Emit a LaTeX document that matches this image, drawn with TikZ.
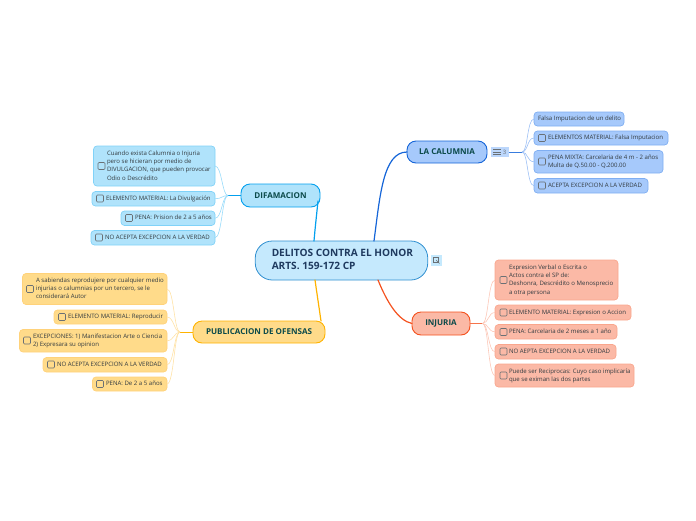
\documentclass[tikz,border=0pt]{standalone}
\usepackage{fontspec}
\setmainfont{Open Sans}
\usetikzlibrary{calc}
\definecolor{ink}{HTML}{333B40}
\definecolor{rootfill}{HTML}{C5E9FD}
\definecolor{rootline}{HTML}{2F8FD0}
\definecolor{rootink}{HTML}{1F3A5F}
\definecolor{topink}{HTML}{0B4A4A}
\definecolor{bluefill}{HTML}{A6C9FB}
\definecolor{blueline}{HTML}{1565D8}
\definecolor{blueedge}{HTML}{7FAEF2}
\definecolor{bluelink}{HTML}{9DC0F5}
\definecolor{redfill}{HTML}{FBB9A6}
\definecolor{redline}{HTML}{F4511E}
\definecolor{rededge}{HTML}{F9A68D}
\definecolor{redlink}{HTML}{FCC8B8}
\definecolor{skyfill}{HTML}{B0E3FB}
\definecolor{skyline}{HTML}{03A0EE}
\definecolor{skyedge}{HTML}{80D2F8}
\definecolor{skylink}{HTML}{98DBFA}
\definecolor{goldfill}{HTML}{FFDB8A}
\definecolor{goldline}{HTML}{FFB300}
\definecolor{goldedge}{HTML}{FFD27A}
\definecolor{goldlink}{HTML}{FFE2A6}
\definecolor{boxgrey}{HTML}{6A7075}
\tikzset{
  plain/.style={inner sep=0pt,outer sep=0pt,rounded corners=3.5pt,line width=.7pt,
    text=ink,font=\fontsize{6.05pt}{8.3pt}\selectfont},
  bluekid/.style={plain,fill=bluefill,draw=blueedge},
  redkid/.style={plain,fill=redfill,draw=rededge},
  skykid/.style={plain,fill=skyfill,draw=skyedge},
  goldkid/.style={plain,fill=goldfill,draw=goldedge},
  topic/.style={inner sep=0pt,outer sep=0pt,rounded corners=9pt,line width=.9pt,align=center,
    text=topink,font=\fontsize{8.05pt}{9pt}\selectfont\bfseries},
  rootbox/.style={inner sep=0pt,outer sep=0pt,rounded corners=17pt,line width=.8pt,
    fill=rootfill,draw=rootline,text=rootink,
    font=\fontsize{10.1pt}{13.5pt}\selectfont\bfseries},
  tick/.style={draw=boxgrey,line width=.6pt,rounded corners=1pt,inner sep=0pt,outer sep=0pt,
    minimum size=7pt},
  mainlink/.style={line width=1.2pt,line cap=round},
  trunk/.style={line width=1pt},
  twig/.style={line width=.6pt},
}
\newcommand{\lines}[3]{\makebox[#1pt][l]{\hspace*{#2pt}\begin{tabular}{@{}l@{}}#3\end{tabular}}}
% name, x1, y1, x2, y2, style, text start offset from x1, text
\newcommand{\kid}[8]{%
  \pgfmathsetmacro{\kw}{#4-#2}%
  \pgfmathsetmacro{\kh}{#5-#3}%
  \node[#6,minimum width=\kw pt,minimum height=\kh pt]
    (#1) at ({(#2+#4)/2},{(#3+#5)/2}) {\lines{\kw}{#7}{#8}};%
}
\newcommand{\tickbox}[2]{\node[tick] (tick#1) at (#2) {};}
\begin{document}
\begin{tikzpicture}[x=1pt,y=-1pt]
\useasboundingbox (0,0) rectangle (696,520);
% root
\node[rootbox,minimum width=172.5pt,minimum height=39pt] (root) at (341.5,260.5)
  {\lines{172.5}{16.5}{DELITOS CONTRA EL HONOR\\ARTS.  159-172 CP}};
% main topics
\node[topic,fill=bluefill,draw=blueline,minimum width=80pt,minimum height=22pt] (cal) at (447,152) {LA CALUMNIA};
\node[topic,fill=redfill,draw=redline,minimum width=58pt,minimum height=23pt] (inj) at (441,323.5) {INJURIA};
\node[topic,fill=skyfill,draw=skyline,minimum width=79pt,minimum height=23pt] (dif) at (280.5,195.5) {DIFAMACION};
\node[topic,fill=goldfill,draw=goldline,minimum width=132pt,minimum height=22pt] (pub) at (259,332) {PUBLICACION DE OFENSAS};
% calumnia children
\kid{c1}{534}{112}{624}{126}{bluekid}{4}{Falsa Imputacion de un delito}
\kid{c2}{534}{131}{668}{145}{bluekid}{14}{ELEMENTOS MATERIAL: Falsa Imputacion}
\kid{c3}{534}{150.5}{663}{173}{bluekid}{14}{PENA MIXTA: Carcelaria de 4 m - 2 años\\Multa de Q.50.00  -  Q.200.00}
\kid{c4}{534}{178.5}{648}{193}{bluekid}{14}{ACEPTA EXCEPCION A LA VERDAD}
\tickbox{c2}{542,138}
\tickbox{c3}{542,161.5}
\tickbox{c4}{542,185.5}
% injuria children
\kid{i1}{495}{260}{618}{300}{redkid}{14}{Expresion Verbal o Escrita o\\Actos contra el SP de:\\Deshonra, Descrédito o Menosprecio\\a otra persona}
\kid{i2}{495}{305}{631}{320}{redkid}{14}{ELEMENTO MATERIAL: Expresion o Accion}
\kid{i3}{495}{324.5}{617}{339}{redkid}{14}{PENA: Carcelaria de 2 meses a 1 año}
\kid{i4}{495}{344.5}{616}{359}{redkid}{14}{NO AEPTA EXCEPCION A LA VERDAD}
\kid{i5}{495}{364}{634}{387}{redkid}{14}{Puede ser Reciprocas: Cuyo caso implicaría\\que se eximan las dos partes}
\tickbox{i1}{503.5,280}
\tickbox{i2}{503.5,312.5}
\tickbox{i3}{503.5,332}
\tickbox{i4}{503.5,351.5}
\tickbox{i5}{503.5,375.5}
% difamacion children
\kid{d1}{93.5}{146}{215}{186}{skykid}{13.5}{Cuando exista Calumnia o Injuria\\pero se hicieran por medio de\\DIVULGACION, que pueden provocar\\Odio o Descrédito}
\kid{d2}{92}{191.5}{215}{206}{skykid}{14}{ELEMENTO MATERIAL: La Divulgación}
\kid{d3}{121}{211}{215}{225.5}{skykid}{14}{PENA: Prision de 2 a 5 años}
\kid{d4}{91}{230.5}{215}{245}{skykid}{14}{NO ACEPTA EXCEPCION A LA VERDAD}
\tickbox{d1}{101.5,166}
\tickbox{d2}{100,198.5}
\tickbox{d3}{129,218}
\tickbox{d4}{99,237.5}
% publicacion children
\kid{p1}{22.5}{273.5}{167}{304.5}{goldkid}{13.5}{A sabiendas reprodujere por cualquier medio\\injurias o calumnias por un tercero, se le\\considerará Autor}
\kid{p2}{54}{310}{167}{324}{goldkid}{14}{ELEMENTO MATERIAL: Reproducir}
\kid{p3}{19.5}{329.5}{167}{352}{goldkid}{13.5}{EXCEPCIONES: 1) Manifestacion Arte o Ciencia\\2) Expresara su opinion}
\kid{p4}{43}{357.5}{167}{372}{goldkid}{14}{NO ACEPTA EXCEPCION A LA VERDAD}
\kid{p5}{92.5}{377}{167}{391}{goldkid}{13.5}{PENA: De 2 a 5 años}
\tickbox{p1}{30,289}
\tickbox{p2}{62,317}
\tickbox{p3}{27,340.5}
\tickbox{p4}{51,364.5}
\tickbox{p5}{100,384}
% root to topics
\draw[mainlink,skyline] ([xshift=-27.5pt]root.north) .. controls +(1,-12) and +(-1,10) .. ([xshift=37.5pt,yshift=6pt]dif.south);
\draw[mainlink,blueline] ([xshift=32.5pt]root.north) .. controls +(6,-45) and +(-24,0) .. (cal.west);
\draw[mainlink,redline] ([xshift=36.5pt]root.south) .. controls +(9,22) and +(-14,-3) .. (inj.west);
\draw[mainlink,goldline] ([xshift=-26.5pt]root.south) .. controls +(2,14) and +(-2,-14) .. ([xshift=62pt]pub.north);
% hubs
\coordinate (hubc) at ([xshift=35pt]cal.east);
\coordinate (hubi) at ([xshift=12.5pt]inj.east);
\coordinate (hubd) at ([xshift=-13pt]dif.west);
\coordinate (hubp) at ([xshift=-13pt]pub.west);
% list badge
\node[fill=bluefill!75!white,inner sep=0pt,minimum width=18pt,minimum height=10pt,anchor=west,
  text=boxgrey,font=\fontsize{6pt}{6pt}\selectfont] (badge) at ([xshift=3.5pt]cal.east) {\hspace*{10pt}3};
\draw[boxgrey,line width=.7pt] ([xshift=2.5pt,yshift=-2.5pt]badge.west) -- ++(8,0)
  ([xshift=2.5pt]badge.west) -- ++(8,0) ([xshift=2.5pt,yshift=2.5pt]badge.west) -- ++(8,0);
% trunks
\draw[trunk,blueline!85!white] (badge.east) -- (hubc);
\draw[trunk,redline!80!white] (inj.east) -- (hubi);
\draw[trunk,skyline] (dif.west) -- (hubd);
\draw[trunk,goldline] (pub.west) -- (hubp);
% twigs
\foreach \k in {c1,c2,c3,c4}{\draw[twig,bluelink] (hubc) .. controls +(6,0) and +(-7,0) .. (\k.west);}
\foreach \k in {i1,i2,i3,i4,i5}{\draw[twig,redlink] (hubi) .. controls +(6,0) and +(-7,0) .. (\k.west);}
\foreach \k in {d1,d2,d3,d4}{\draw[twig,skylink] (hubd) .. controls +(-6,0) and +(7,0) .. (\k.east);}
\foreach \k in {p1,p2,p3,p4,p5}{\draw[twig,goldlink] (hubp) .. controls +(-6,0) and +(7,0) .. (\k.east);}
% open icon
\node[fill=rootfill,inner sep=0pt,minimum size=11pt] (openicon) at (436,260.5) {};
\draw[boxgrey,line width=.5pt] ([xshift=-3pt,yshift=-1.5pt]openicon.center) rectangle ([xshift=2.5pt,yshift=3pt]openicon.center);
\draw[boxgrey,line width=.5pt] ([xshift=0pt,yshift=0.5pt]openicon.center) -- ([xshift=3.5pt,yshift=-3pt]openicon.center);
\end{tikzpicture}
\end{document}
